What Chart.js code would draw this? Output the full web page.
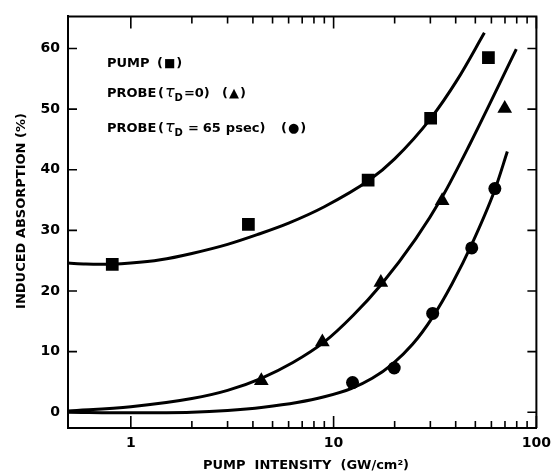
<!DOCTYPE html>
<html>
<head>
<meta charset="utf-8">
<script src="https://cdn.jsdelivr.net/npm/chart.js@4.4.1/dist/chart.umd.min.js"></script>
<style>
html,body{margin:0;padding:0;background:#fff;}
canvas{display:block;}
</style>
</head>
<body>
<canvas id="c" width="558" height="476"></canvas>
<script>
// ---- data ----
const xTickLabels = [1, 10, 100];
const xMinorTicks = [2,3,4,5,6,7,8,9,20,30,40,50,60,70,80,90];
const yTickValues = [0, 10, 20, 30, 40, 50, 60];

// fitted curves (x: GW/cm^2, y: %)
const pumpCurve = [[0.49,24.6],[0.6,24.45],[0.7,24.4],[0.8,24.42],[1,24.6],[1.4,25.15],[2,26.2],[3,27.7],[4.2,29.3],[6,31.2],[9,33.9],[15,38.3],[20,41.8],[30,48.4],[41,55.0],[55.4,62.6]];
const probe0Curve = [[0.49,0.2],[1,0.9],[2,2.25],[3,3.6],[4.4,5.6],[6.3,8.2],[9,11.6],[12.5,16.0],[17.1,21.0],[25.4,28.6],[34.3,35.5],[47.1,44.3],[79.6,59.9]];
const probe65Curve = [[0.49,0],[1,-0.1],[2,0],[3,0.3],[4.5,0.83],[6.6,1.6],[9,2.55],[12.2,3.9],[15.5,5.6],[19.5,7.95],[24.5,11.2],[30.8,15.7],[38.4,21.2],[48,27.7],[62.4,36.7],[71.9,43.0]];

// measured points
const pumpPoints = [[0.81,24.4],[3.8,31],[14.8,38.3],[30.1,48.5],[58,58.5]];
const probe0Points = [[4.4,5.2],[8.8,11.6],[17.1,21.4],[34.3,34.9],[69.8,50.1]];
const probe65Points = [[12.4,4.9],[19.9,7.3],[30.8,16.3],[48,27.1],[62.4,36.9]];

const xTitle = 'PUMP  INTENSITY  (GW/cm\u00B2)';
const yTitle = 'INDUCED ABSORPTION (%)';

const FONT = 'DejaVu Sans';
const toXY = a => a.map(([x,y]) => ({x, y}));

const curve = d => ({data: toXY(d), borderColor:'#000', borderWidth:3, pointRadius:0, cubicInterpolationMode:'monotone', fill:false});
const marks = (d, style, r) => ({data: toXY(d), showLine:false, pointStyle:style, pointRadius:r, pointHoverRadius:r, backgroundColor:'#000', borderColor:'#000', borderWidth:0});

const decor = {
  id:'decor',
  afterDraw(chart){
    const ctx = chart.ctx, a = chart.chartArea, xs = chart.scales.x, ys = chart.scales.y;
    ctx.save();
    ctx.strokeStyle = '#000';
    ctx.lineWidth = 2;
    ctx.beginPath();
    ctx.moveTo(a.left, a.top); ctx.lineTo(a.right, a.top); ctx.lineTo(a.right, a.bottom);
    ctx.stroke();
    ctx.lineWidth = 1.6;
    ctx.beginPath();
    yTickValues.forEach(v => {
      const y = ys.getPixelForValue(v);
      ctx.moveTo(a.left, y); ctx.lineTo(a.left + 9, y);
      ctx.moveTo(a.right, y); ctx.lineTo(a.right - 9, y);
    });
    xTickLabels.forEach(v => {
      const x = xs.getPixelForValue(v);
      ctx.moveTo(x, a.bottom); ctx.lineTo(x, a.bottom - 12);
      ctx.moveTo(x, a.top); ctx.lineTo(x, a.top + 12);
    });
    xMinorTicks.forEach(v => {
      const x = xs.getPixelForValue(v);
      ctx.moveTo(x, a.bottom); ctx.lineTo(x, a.bottom - 7);
      ctx.moveTo(x, a.top); ctx.lineTo(x, a.top + 7);
    });
    ctx.stroke();

    // axis titles
    ctx.fillStyle = '#000';
    ctx.font = 'bold 13px "' + FONT + '"';
    ctx.textAlign = 'center';
    ctx.textBaseline = 'alphabetic';
    ctx.fillText(xTitle, 306, 469);
    ctx.save();
    ctx.translate(25, 211);
    ctx.rotate(-Math.PI/2);
    ctx.fillText(yTitle, 0, 0);
    ctx.restore();

    // key text
    ctx.textAlign = 'left';
    const base = 'bold 13px "' + FONT + '"';
    const tau = 'italic 16px "' + FONT + '"';
    const sub = 'bold 10px "' + FONT + '"';
    const drawParts = (y, parts) => {
      let x = 0;
      parts.forEach(p => {
        if (p.at !== undefined) x = p.at;
        ctx.font = p.f || base;
        ctx.fillText(p.t, x, y + (p.dy || 0));
        x += ctx.measureText(p.t).width + (p.gap || 0);
      });
    };
    const sq = '12px "' + FONT + '"';
    const tri = '13px "' + FONT + '"';
    const dot = '13px "' + FONT + '"';
    drawParts(67, [{t:'PUMP', at:107}, {t:'(', at:157, gap:1}, {t:'\u25A0', f:sq, gap:1}, {t:')'}]);
    drawParts(97, [{t:'PROBE', at:107}, {t:'(', at:158, gap:1}, {t:'\u03C4', f:tau}, {t:'D', f:sub, dy:4, gap:1}, {t:'=0)'},
                   {t:'(', at:222, gap:1}, {t:'\u25B2', f:tri, gap:1}, {t:')'}]);
    drawParts(132, [{t:'PROBE', at:107}, {t:'(', at:158, gap:1}, {t:'\u03C4', f:tau}, {t:'D', f:sub, dy:4, gap:5}, {t:'=', gap:4}, {t:'65', gap:5}, {t:'psec)'},
                   {t:'(', at:281, gap:1}, {t:'\u25CF', f:dot, gap:1}, {t:')'}]);
    ctx.restore();
  }
};

new Chart(document.getElementById('c'), {
  type:'line',
  data:{datasets:[
    curve(pumpCurve), curve(probe0Curve), curve(probe65Curve),
    marks(pumpPoints, 'rect', 9), marks(probe0Points, 'triangle', 8.5), marks(probe65Points, 'circle', 6.5)
  ]},
  options:{
    responsive:false, animation:false,
    layout:{padding:{top:15, right:16, left:0, bottom:0}},
    plugins:{legend:{display:false}, tooltip:{enabled:false}},
    scales:{
      x:{type:'logarithmic', min:0.49, max:100,
         grid:{display:false, drawTicks:false},
         border:{display:true, color:'#000', width:2},
         ticks:{color:'#000', font:{family:FONT, size:14, weight:'bold'}, padding:7, autoSkip:false, maxRotation:0, callback:v => String(v)},
         afterBuildTicks:s => { s.ticks = xTickLabels.map(v => ({value:v})); },
         afterFit:s => { s.height = 48; }},
      y:{type:'linear', min:-2.6, max:65.3,
         grid:{display:false, drawTicks:false},
         border:{display:true, color:'#000', width:2},
         ticks:{color:'#000', font:{family:FONT, size:14, weight:'bold'}, padding:8, callback:v => String(v)},
         afterBuildTicks:s => { s.ticks = yTickValues.map(v => ({value:v})); },
         afterFit:s => { s.width = 68; }}
    }
  },
  plugins:[decor]
});
</script>
</body>
</html>
